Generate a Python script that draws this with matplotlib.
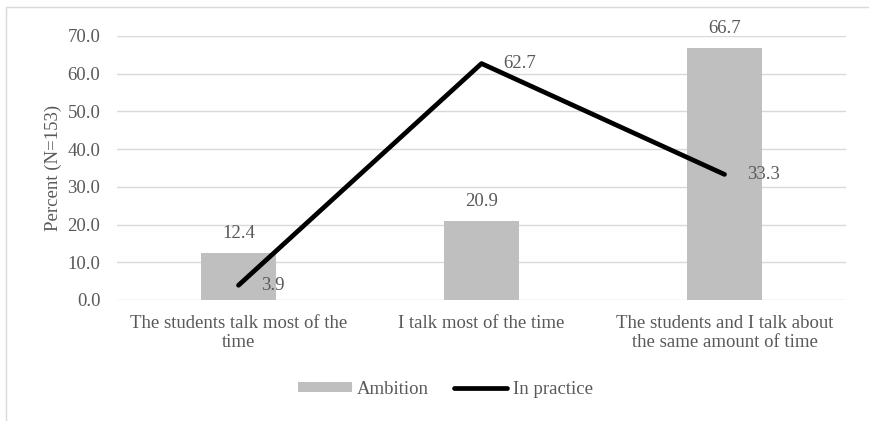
import matplotlib.pyplot as plt
from matplotlib.patches import Rectangle
import numpy as np

categories = ['The students talk most of the\ntime', 'I talk most of the time',
              'The students and I talk about\nthe same amount of time']
ambition = [12.4, 20.9, 66.7]
in_practice = [3.9, 62.7, 33.3]
yticks = [0, 10, 20, 30, 40, 50, 60, 70]

plt.rcParams['font.family'] = ['Liberation Serif', 'DejaVu Serif']
txt = '#595959'
fs = 13.5

fig = plt.figure(figsize=(8.69, 4.21), dpi=100)
# chart frame (only left/top edges fall inside the image)
fig.patches.append(Rectangle((6/869, -0.5), 2.0, 1 - 7/421 + 0.5, transform=fig.transFigure,
                             fill=False, edgecolor='#d9d9d9', linewidth=1.0))
ax = fig.add_axes([117/869, 1 - 300/421, (846-117)/869, (300-36)/421])

x = np.arange(len(categories))
bars = ax.bar(x, ambition, width=0.31, color='#bfbfbf', label='Ambition', zorder=2)
line, = ax.plot(x, in_practice, color='black', linewidth=3.4, solid_capstyle='round',
                label='In practice', zorder=3)

for xi, v in zip(x, ambition):
    ax.annotate(f'{v:.1f}', (xi, v), xytext=(0, 8), textcoords='offset points',
                ha='center', va='bottom', fontsize=fs, color=txt)
for xi, v in zip(x, in_practice):
    ax.annotate(f'{v:.1f}', (xi, v), xytext=(16, 0), textcoords='offset points',
                ha='left', va='center', fontsize=fs, color=txt)

ax.set_xlim(-0.5, 2.5)
ax.set_ylim(0, 70)
ax.set_yticks(yticks)
ax.set_yticklabels([f'{t:.1f}' for t in yticks])
ax.set_xticks(x)
ax.set_xticklabels(categories, linespacing=1.15)
ax.tick_params(axis='both', length=0, labelsize=fs, labelcolor=txt)
ax.tick_params(axis='y', pad=12)
ax.tick_params(axis='x', pad=11)
ax.grid(axis='y', color='#d9d9d9', linewidth=1.0, zorder=0)
ax.set_axisbelow(True)
for s in ax.spines.values():
    s.set_visible(False)
ax.set_ylabel('Percent (N=153)', fontsize=fs, color=txt, labelpad=4)

leg = fig.legend([bars, line], ['Ambition', 'In practice'], loc='center',
                 bbox_to_anchor=(0.5 + 11/869, 1 - 389/421), ncol=2, frameon=False,
                 fontsize=fs, handlelength=2.85, handleheight=0.5, columnspacing=1.3,
                 handletextpad=0.3)
for t in leg.get_texts():
    t.set_color(txt)

fig.savefig('out.png', dpi=100)
